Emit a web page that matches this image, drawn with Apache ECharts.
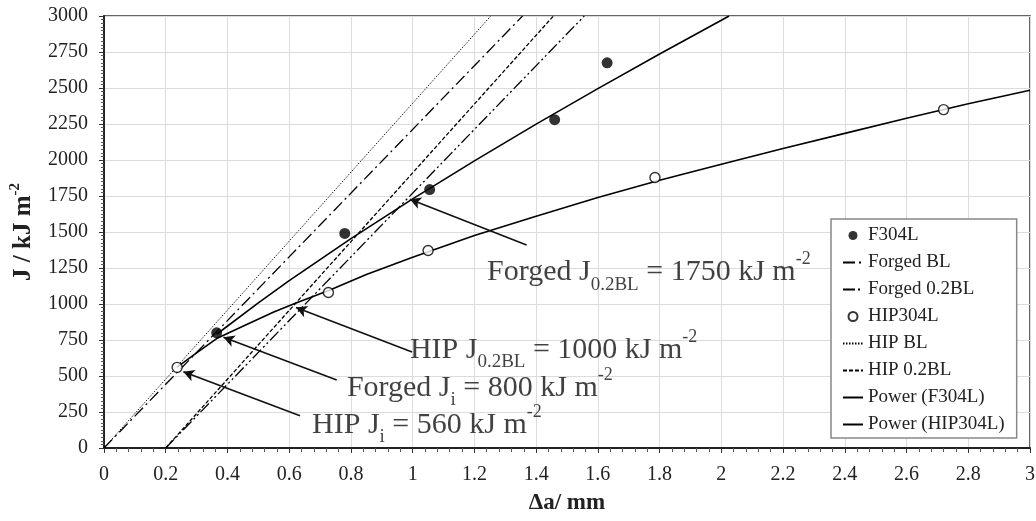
<!DOCTYPE html>
<html><head><meta charset="utf-8">
<script src="https://cdn.jsdelivr.net/npm/echarts@6/dist/echarts.min.js"></script>
<style>html,body{margin:0;padding:0;background:#fff}#c{width:1036px;height:521px}</style>
</head><body><div id="c"></div>
<script>
// ---- data ----
const f304lPoints = [[0.365, 800], [0.78, 1490], [1.055, 1795], [1.46, 2280], [1.63, 2675]];
const hip304lPoints = [[0.237, 560], [0.727, 1080], [1.05, 1372], [1.785, 1878], [2.72, 2350]];
const forgedBL = [[0, 0], [1.356, 3000]];
const forged02BL = [[0.2, 0], [1.556, 3000]];
const hipBL = [[0, 0], [1.253, 3000]];
const hip02BL = [[0.2, 0], [1.456, 3000]];
const powerF304LX = [0.365, 0.5, 0.6, 0.8, 1.0, 1.2, 1.4, 1.6, 1.8, 2.0, 2.025];
const powerF304LY = [790, 1008, 1162, 1454, 1730, 1994, 2249, 2496, 2736, 2970, 3000];
const powerHIPX = [0.237, 0.3, 0.365, 0.45, 0.55, 0.62, 0.73, 0.85, 1.0, 1.2, 1.4, 1.6, 1.8, 2.0, 2.2, 2.4, 2.6, 2.8, 3.0];
const powerHIPY = [562, 660, 760, 845, 945, 1005, 1095, 1205, 1325, 1475, 1610, 1740, 1860, 1970, 2080, 2185, 2290, 2390, 2485];
const legendNames = ['F304L', 'Forged BL', 'Forged 0.2BL', 'HIP304L', 'HIP BL', 'HIP 0.2BL', 'Power (F304L)', 'Power (HIP304L)'];
// annotation anchors (data coords)
const noteTexts = [
  '{a|Forged J}{s|0.2BL}{a| = 1750 kJ m}{p|-2}',
  '{a|HIP J}{s|0.2BL}{a| = 1000 kJ m}{p|-2}',
  '{a|Forged J}{s|i}{a| = 800 kJ m}{p|-2}',
  '{a|HIP J}{s|i}{a| = 560 kJ m}{p|-2}'
];
const noteAnchors = [[1.241, 1222], [0.991, 681], [0.787, 417], [0.674, 160]];
const arrowTails = [[1.369, 1410], [0.998, 667], [0.754, 472], [0.635, 224]];
const arrowHeads = [[0.991, 1728], [0.622, 975], [0.387, 769], [0.257, 530]];

const FONT = 'Liberation Serif';
const zip = (xs, ys) => xs.map((x, i) => [x, ys[i]]);
const lineNames = ['Forged BL', 'Forged 0.2BL', 'HIP BL', 'HIP 0.2BL', 'Power (F304L)', 'Power (HIP304L)'];

const lineSeries = (name, data, type, width) => ({
  name, type: 'line', data, showSymbol: false, symbol: 'none', silent: true, z: 3,
  lineStyle: { color: '#000', width: width, type: type },
  itemStyle: { color: 'rgba(0,0,0,0)', borderWidth: 0 }
});

const option = {
  animation: false,
  backgroundColor: '#fff',
  grid: { left: 104, right: 6, top: 16, bottom: 73, show: true, borderColor: '#333', borderWidth: 1.5,
          backgroundColor: 'transparent', outerBoundsMode: 'none', containLabel: false },
  legend: {
    data: legendNames.map(n => lineNames.includes(n)
      ? { name: n, itemStyle: { opacity: 0 } }
      : { name: n }),
    orient: 'vertical', left: 831, top: 219,
    padding: [7, 12, 4, 11], itemGap: 8, itemWidth: 20, itemHeight: 9,
    backgroundColor: '#fff', borderColor: '#888', borderWidth: 1.5, borderRadius: 0,
    textStyle: { fontFamily: FONT, fontSize: 19, color: '#222' },
    selectedMode: false
  },
  xAxis: {
    type: 'value', min: 0, max: 3, interval: 0.2,
    name: '{b|Δa/ mm}', nameLocation: 'middle', nameGap: 44,
    nameTextStyle: { rich: { b: { fontFamily: FONT, fontSize: 23, fontWeight: 'bold', color: '#222' } } },
    axisLine: { show: true, onZero: false, lineStyle: { color: '#222', width: 2 } },
    axisTick: { show: true, length: 5, lineStyle: { color: '#333' } },
    minorTick: { show: true, splitNumber: 5, length: 4, lineStyle: { color: '#555' } },
    axisLabel: { fontFamily: FONT, fontSize: 20, color: '#222', margin: 17,
                 formatter: v => String(Math.round(v * 10) / 10) },
    splitLine: { show: true, lineStyle: { color: '#dcdcdc', width: 1 } }
  },
  yAxis: {
    type: 'value', min: 0, max: 3000, interval: 250,
    name: '{b|J / kJ m}{p|-2}', nameLocation: 'middle', nameGap: 64, nameRotate: 90,
    nameTextStyle: { rich: {
      b: { fontFamily: FONT, fontSize: 25, fontWeight: 'bold', color: '#222', lineHeight: 32 },
      p: { fontFamily: FONT, fontSize: 15, fontWeight: 'bold', color: '#222', verticalAlign: 'top', lineHeight: 18 }
    } },
    axisLine: { show: true, onZero: false, lineStyle: { color: '#222', width: 2 } },
    axisTick: { show: true, length: 5, lineStyle: { color: '#333' } },
    minorTick: { show: true, splitNumber: 10, length: 3, lineStyle: { color: '#555' } },
    axisLabel: { fontFamily: FONT, fontSize: 20, color: '#222', margin: 16,
                 formatter: v => String(v) },
    splitLine: { show: true, lineStyle: { color: '#dcdcdc', width: 1 } }
  },
  series: [
    { name: 'F304L', type: 'scatter', data: f304lPoints, symbol: 'circle', symbolSize: 11, z: 6,
      itemStyle: { color: '#000' } },
    lineSeries('Forged BL', forgedBL, [12, 4, 2, 4], 1.3),
    lineSeries('Forged 0.2BL', forged02BL, [12, 3, 2, 3, 2, 3], 1.3),
    { name: 'HIP304L', type: 'scatter', data: hip304lPoints, symbol: 'circle', symbolSize: 10, z: 6,
      itemStyle: { color: '#fff', borderColor: '#000', borderWidth: 1.4 } },
    lineSeries('HIP BL', hipBL, [1.5, 1.5], 0.9),
    lineSeries('HIP 0.2BL', hip02BL, [4, 2], 1.3),
    lineSeries('Power (F304L)', zip(powerF304LX, powerF304LY), 'solid', 1.6),
    lineSeries('Power (HIP304L)', zip(powerHIPX, powerHIPY), 'solid', 1.6),
    { name: 'arrows', type: 'line', data: [], silent: true, z: 7,
      markLine: {
        silent: true, symbol: ['none', 'arrow'], symbolSize: [9, 11], animation: false,
        label: { show: false },
        lineStyle: { color: '#111', type: 'solid', width: 1.6 },
        data: arrowTails.map((t, i) => [{ coord: t }, { coord: arrowHeads[i] }])
      } },
    { name: 'notes', type: 'scatter', silent: true, symbolSize: 0, z: 8,
      data: noteAnchors.map((p, i) => ({ value: p, txt: noteTexts[i] })),
      label: {
        show: true, position: 'right', distance: 0,
        formatter: (p) => p.data.txt,
        backgroundColor: 'transparent',
        rich: {
          a: { fontFamily: FONT, fontSize: 30, color: '#111', lineHeight: 44 },
          s: { fontFamily: FONT, fontSize: 19, color: '#111', verticalAlign: 'bottom', lineHeight: 20 },
          p: { fontFamily: FONT, fontSize: 18, color: '#111', verticalAlign: 'top', lineHeight: 25 }
        }
      } }
  ]
};
const chart = echarts.init(document.getElementById('c'), null, { renderer: 'canvas' });
chart.setOption(option);
</script></body></html>
